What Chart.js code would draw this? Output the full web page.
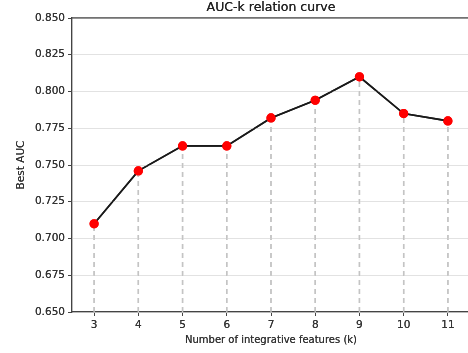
<!DOCTYPE html>
<html><head><meta charset="utf-8">
<script src="https://cdn.jsdelivr.net/npm/chart.js@4/dist/chart.umd.min.js"></script>
<style>html,body{margin:0;padding:0;background:#fff;overflow:hidden;width:468px;height:353px}</style>
</head><body>
<canvas id="c" width="582" height="353" style="width:582px;height:353px;display:block"></canvas>
<script>
const kValues = [3, 4, 5, 6, 7, 8, 9, 10, 11];
const bestAUC = [0.710, 0.746, 0.763, 0.763, 0.782, 0.794, 0.810, 0.785, 0.780];
const yTicks = [0.650, 0.675, 0.700, 0.725, 0.750, 0.775, 0.800, 0.825, 0.850];
const xTicks = kValues;
const yMin = 0.650, yMax = 0.850;
const xMin = 2.5, xMax = 11.5;

const FONT = 'DejaVu Sans';
const mainPts = kValues.map((k, i) => ({x: k, y: bestAUC[i]}));
const dropSets = kValues.map((k, i) => ({
  data: [{x: k, y: yMin}, {x: k, y: bestAUC[i]}],
  borderColor: '#c4c4c4', borderWidth: 1.4, borderDash: [5, 4],
  pointRadius: 0, fill: false, order: 5
}));

// The plot runs past the window's right edge (like the reference): keep the scale so xMax sits at 470px.
const edgeScale = {
  id: 'edgeScale',
  beforeDraw(chart) {
    if (chart.$done) return;
    const a = chart.chartArea;
    const perUnit = (470 - a.left) / (xMax - xMin);
    chart.$done = true;
    chart.options.scales.x.max = xMin + (a.right - a.left) / perUnit;
    chart.update('none');
  }
};

const topSpine = {
  id: 'topSpine',
  afterDraw(chart) {
    const a = chart.chartArea, ctx = chart.ctx;
    ctx.save();
    ctx.strokeStyle = '#444'; ctx.lineWidth = 1.2;
    ctx.beginPath(); ctx.moveTo(a.left, a.top); ctx.lineTo(a.right, a.top); ctx.stroke();
    ctx.restore();
  }
};

new Chart(document.getElementById('c'), {
  type: 'line',
  data: {
    datasets: [
      {data: mainPts, borderColor: '#1a1a1a', borderWidth: 1.6, pointBackgroundColor: '#ff0000',
       pointBorderColor: '#ff0000', pointRadius: 3.8, fill: false, order: 0}
    ].concat(dropSets)
  },
  plugins: [edgeScale, topSpine],
  options: {
    responsive: false, animation: false, devicePixelRatio: 1,
    layout: {padding: {left: 0, right: 40, top: 0, bottom: 0}},
    plugins: {
      legend: {display: false}, tooltip: {enabled: false},
      title: {display: true, text: 'AUC-k relation curve', fullSize: true, color: '#222', align: 'center',
              font: {family: FONT, size: 12.5, weight: 'normal'}, padding: {top: 0, bottom: 3}},
      subtitle: {display: true, position: 'bottom', text: 'Number of integrative features (k)', fullSize: true,
                 align: 'center', color: '#333', font: {family: FONT, size: 10, weight: 'normal'},
                 padding: {top: 0, bottom: 7}}
    },
    scales: {
      x: {
        type: 'linear', min: xMin, max: xMax,
        afterBuildTicks: s => { s.ticks = xTicks.map(v => ({value: v})); },
        afterFit: s => { s.height = 22; },
        ticks: {color: '#333', font: {family: FONT, size: 10.5}, padding: 3, maxRotation: 0},
        grid: {drawOnChartArea: false, tickLength: 4, tickColor: '#444', tickWidth: 1},
        border: {color: '#444', width: 1.2}
      },
      y: {
        type: 'linear', min: yMin, max: yMax,
        afterBuildTicks: s => { s.ticks = yTicks.map(v => ({value: v})); },
        afterFit: s => { s.width = 72; },
        ticks: {color: '#333', font: {family: FONT, size: 10.5}, padding: 3,
                callback: v => Number(v).toFixed(3)},
        grid: {color: '#e2e2e2', lineWidth: 1, tickLength: 4, tickColor: '#444', tickWidth: 1},
        border: {color: '#444', width: 1.2},
        title: {display: true, text: 'Best AUC', color: '#333', font: {family: FONT, size: 10.5}, padding: {top: 15, bottom: 2}}
      }
    }
  }
});
</script>
</body></html>
